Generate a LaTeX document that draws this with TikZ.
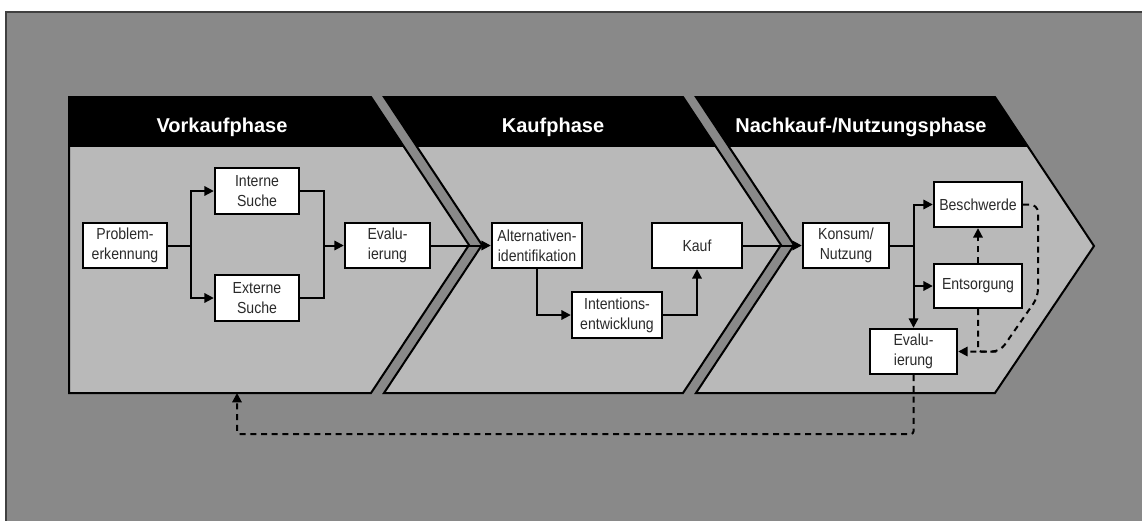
\documentclass[tikz,border=0pt]{standalone}
\usepackage{fontspec}
\setmainfont{Liberation Sans}
\newfontfamily\boxfont[FakeStretch=0.88]{Liberation Sans}
\usetikzlibrary{arrows.meta,calc}
\definecolor{bggray}{HTML}{898989}
\definecolor{bodygray}{HTML}{B9B9B9}
\definecolor{txtgray}{HTML}{2A2A2A}
\begin{document}
\begin{tikzpicture}[x=0.75pt,y=-0.75pt,
  box/.style={draw=black,line width=1.8pt,fill=white,inner sep=0pt,align=center,
    minimum height=33.75pt,font=\boxfont\fontsize{12}{15}\selectfont,text=txtgray},
  conn/.style={line width=1.5pt,draw=black},
  arr/.style={conn,-{Triangle[length=7pt,width=7pt]}},
  fb/.style={line width=1.5pt,draw=black,dash pattern=on 4.5pt off 3.5pt},
  fbarr/.style={fb,-{Triangle[length=7pt,width=7pt]}},
  phaseline/.style={draw=black,line width=1.5pt,line join=miter},
  head/.style={text=white,font=\fontsize{15}{18}\selectfont\bfseries,anchor=base}]
\useasboundingbox (0,0) rectangle (1142,521);
\fill[white] (0,0) rectangle (1142,521);
\fill[bggray] (6,12) rectangle (1142,521);
\draw[line width=1.5pt,draw=black!75] (6,521) -- (6,12) -- (1142,12);

% phase 1
\begin{scope}
\clip (69,97) -- (371,97) -- (469,245) -- (371,393) -- (69,393) -- cycle;
\fill[bodygray] (0,90) rectangle (1142,400);
\fill[black] (0,90) rectangle (1142,147);
\end{scope}
\draw[phaseline] (69,97) -- (371,97) -- (469,245) -- (371,393) -- (69,393) -- cycle;
% phase 2
\begin{scope}
\clip (384,97) -- (683,97) -- (781,245) -- (683,393) -- (384,393) -- (482,245) -- cycle;
\fill[bodygray] (0,90) rectangle (1142,400);
\fill[black] (0,90) rectangle (1142,147);
\end{scope}
\draw[phaseline] (384,97) -- (683,97) -- (781,245) -- (683,393) -- (384,393) -- (482,245) -- cycle;
% phase 3
\begin{scope}
\clip (696,97) -- (995,97) -- (1094,246) -- (995,393) -- (696,393) -- (794,245) -- cycle;
\fill[bodygray] (0,90) rectangle (1142,400);
\fill[black] (0,90) rectangle (1142,147);
\end{scope}
\draw[phaseline] (696,97) -- (995,97) -- (1094,246) -- (995,393) -- (696,393) -- (794,245) -- cycle;

\node[head] (h1) at (222,132) {Vorkaufphase};
\node[head] (h2) at (553,132) {Kaufphase};
\node[head] (h3) at (861,132) {Nachkauf-/Nutzungsphase};

% boxes
\node[box,minimum width=63pt] (prob) at (125,245.5) {Problem-\\erkennung};
\node[box,minimum width=63pt,minimum height=34.5pt] (intern) at (257,191) {Interne\\Suche};
\node[box,minimum width=63pt,minimum height=34.5pt] (extern) at (257,298) {Externe\\Suche};
\node[box,minimum width=63.75pt] (evalA) at (387.5,245.5) {Evalu-\\ierung};
\node[box,minimum width=67.5pt] (alt) at (537,245.5) {Alternativen-\\identifikation};
\node[box,minimum width=67.5pt] (kauf) at (697,245.5) {Kauf};
\node[box,minimum width=67.5pt,minimum height=34.5pt] (intent) at (617,315) {Intentions-\\entwicklung};
\node[box,minimum width=64.5pt] (konsum) at (846,245.5) {Konsum/\\Nutzung};
\node[box,minimum width=66pt] (besch) at (978,204.5) {Beschwerde};
\node[box,minimum width=66pt,minimum height=33pt] (entsorg) at (978,286) {Entsorgung};
\node[box,minimum width=65.25pt] (evalC) at (913.5,351.5) {Evalu-\\ierung};

% connectors
\coordinate (j1) at (191,245.5);
\coordinate (j2) at (324,245.5);
\coordinate (j3) at (913.5,245.5);
\draw[conn] (prob.east) -- (j1);
\draw[arr] (j1) |- (intern.west);
\draw[arr] (j1) |- (extern.west);
\draw[conn] (intern.east) -| (j2);
\draw[conn] (extern.east) -| (j2);
\draw[arr] (j2) -- (evalA.west);
\draw[arr] (evalA.east) -- (alt.west);
\draw[arr] (alt.south) |- (intent.west);
\draw[arr] (intent.east) -| (kauf.south);
\draw[arr] (kauf.east) -- (konsum.west);
\draw[conn] (konsum.east) -- (j3);
\draw[arr] (j3) |- (besch.west);
\draw[arr] (j3) |- (entsorg.west);
\draw[arr] (j3) -- (evalC.north);

% feedback
\coordinate (c1) at (1038,204.5);
\coordinate (c2) at (1038,297);
\coordinate (c3) at (1000,351.5);
\draw[fbarr] (entsorg.north) -- (besch.south);
\draw[fbarr,rounded corners=6pt] (besch.east) -- (c1) -- (c2) -- (c3) -- (evalC.east);
\draw[fb,rounded corners=2pt] (entsorg.south) |- (c3);
\coordinate (f1) at (913.5,434);
\coordinate (f2) at (237,434);
\coordinate (f3) at (237,393);
\draw[fbarr,rounded corners=2pt] (evalC.south) -- (f1) -- (f2) -- (f3);
\end{tikzpicture}
\end{document}
